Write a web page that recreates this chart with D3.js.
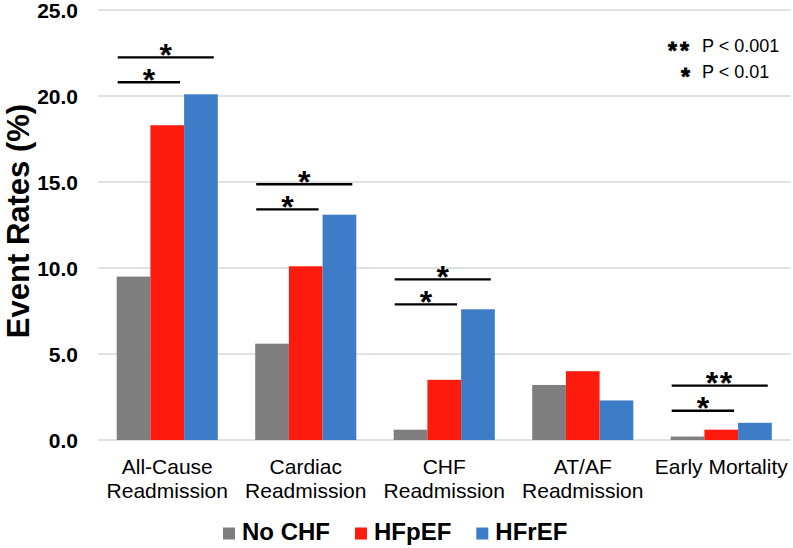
<!DOCTYPE html>
<html>
<head>
<meta charset="utf-8">
<script src="https://cdn.jsdelivr.net/npm/d3@7"></script>
<style>
  html, body { margin: 0; padding: 0; background: #fff; }
  svg { display: block; font-family: Arial, "Liberation Sans", sans-serif; }
</style>
</head>
<body>
<svg id="chart" width="793" height="548"></svg>
<script>
// ---- data ----
const categories = [["All-Cause", "Readmission"], ["Cardiac", "Readmission"], ["CHF", "Readmission"], ["AT/AF", "Readmission"], ["Early Mortality"]];
const seriesNames = ["No CHF", "HFpEF", "HFrEF"];
const noCHF = [9.5, 5.6, 0.6, 3.2, 0.2];
const hfpEF = [18.3, 10.1, 3.5, 4.0, 0.6];
const hfrEF = [20.1, 13.1, 7.6, 2.3, 1.0];
const yTicks = [0, 5, 10, 15, 20, 25];
// significance brackets: category index, to series, level (value), label
const sigCat = [0, 0, 1, 1, 2, 2, 4, 4];
const sigTo = [2, 1, 2, 1, 2, 1, 2, 1];
const sigLevel = [22.25, 20.8, 14.87, 13.41, 9.34, 7.89, 3.16, 1.70];
const sigLabel = ["*", "*", "*", "*", "*", "*", "**", "*"];
const pKeyStars = ["**", "*"];
const pKeyText = ["P < 0.001", "P < 0.01"];

const colors = ["#7f7f7f", "#fe1b0e", "#3d7cc7"];
const series = [noCHF, hfpEF, hfrEF];

const svg = d3.select("#chart");
const plotLeft = 98, plotRight = 790.5, plotTop = 10, plotBottom = 440;

const x0 = d3.scaleBand().domain(d3.range(categories.length))
  .range([plotLeft, plotRight]).paddingInner(0.27).paddingOuter(0.135);
const x1 = d3.scaleBand().domain(d3.range(series.length)).range([0, x0.bandwidth()]);
const y = d3.scaleLinear().domain([0, 25]).range([plotBottom, plotTop]);

// gridlines
svg.append("g").selectAll("line").data(yTicks).join("line")
  .attr("x1", plotLeft).attr("x2", plotRight)
  .attr("y1", d => y(d)).attr("y2", d => y(d))
  .attr("stroke", "#d9d9d9").attr("stroke-width", 1.4);

// y axis labels
const yAxis = d3.axisLeft(y).tickValues(yTicks).tickFormat(d3.format(".1f")).tickSize(0).tickPadding(20);
const yg = svg.append("g").attr("transform", `translate(${plotLeft},0)`).call(yAxis);
yg.select(".domain").remove();
yg.selectAll("text").attr("font-size", 21).attr("font-weight", "bold").attr("fill", "#000")
  .attr("font-family", "Arial, 'Liberation Sans', sans-serif").attr("dy", "0.36em");

// y title
svg.append("text")
  .attr("transform", `translate(29,221) rotate(-90)`)
  .attr("text-anchor", "middle")
  .attr("font-size", 31).attr("font-weight", "bold").attr("fill", "#000")
  .text("Event Rates (%)");

// bars
series.forEach((vals, si) => {
  svg.append("g").selectAll("rect").data(vals).join("rect")
    .attr("x", (d, i) => x0(i) + x1(si))
    .attr("width", x1.bandwidth())
    .attr("y", d => y(d))
    .attr("height", d => y(0) - y(d))
    .attr("fill", colors[si]);
});

// x labels
const xl = svg.append("g");
categories.forEach((lines, i) => {
  const t = xl.append("text").attr("text-anchor", "middle")
    .attr("font-size", 21).attr("fill", "#000");
  lines.forEach((ln, k) => {
    t.append("tspan").attr("x", x0(i) + x0.bandwidth() / 2).attr("y", 474 + k * 24).text(ln);
  });
});

// significance brackets
const sg = svg.append("g");
sigCat.forEach((c, k) => {
  const xa = x0(c) + x1(0) + 1;
  const xb = x0(c) + x1(sigTo[k]) + x1.bandwidth() - 4;
  const ly = y(sigLevel[k]);
  sg.append("line").attr("x1", xa).attr("x2", xb).attr("y1", ly).attr("y2", ly)
    .attr("stroke", "#000").attr("stroke-width", 2.3);
  sg.append("text").attr("x", (xa + xb) / 2).attr("y", ly + 8.5)
    .attr("text-anchor", "middle").attr("font-size", 32).attr("font-weight", "bold")
    .attr("letter-spacing", sigLabel[k].length > 1 ? 1.5 : 0)
    .text(sigLabel[k]);
});

// p-value key
pKeyStars.forEach((s, k) => {
  const cy = 46 + k * 25.7;
  svg.append("text").attr("text-anchor", "end")
    .attr("x", s.length > 1 ? 692 : 690).attr("y", cy + 13.3)
    .attr("font-size", 23).attr("font-weight", "bold")
    .attr("stroke", "#000").attr("stroke-width", 0.8).attr("stroke-linejoin", "miter")
    .attr("letter-spacing", s.length > 1 ? 3 : 0).text(s);
  svg.append("text").attr("x", 702).attr("y", cy + 6.4)
    .attr("font-size", 18).attr("fill", "#000").text(pKeyText[k]);
});

// legend
const leg = svg.append("g");
let lx = 223;
seriesNames.forEach((name, i) => {
  leg.append("rect").attr("x", lx).attr("y", 527.5).attr("width", 12).attr("height", 12).attr("fill", colors[i]);
  const t = leg.append("text").attr("x", lx + 19).attr("y", 540.3)
    .attr("font-size", 24).attr("font-weight", "bold").attr("fill", "#000").text(name);
  lx = lx + 19 + t.node().getComputedTextLength() + 25;
});
</script>
</body>
</html>
